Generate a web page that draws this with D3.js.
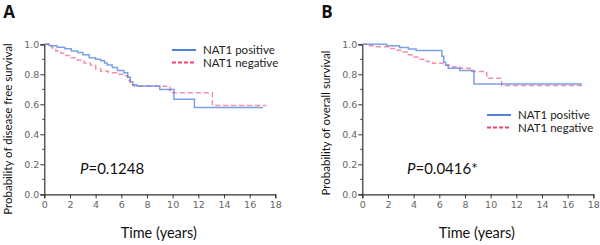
<!DOCTYPE html>
<html>
<head>
<meta charset="utf-8">
<script src="https://cdn.jsdelivr.net/npm/d3@7"></script>
<style>
  body { margin: 0; background: #fff; }
  svg text { font-family: Lato, 'Open Sans', sans-serif; font-weight: 400; }
</style>
</head>
<body>
<div class="canvas"></div>
<script>
// Kaplan-Meier steps: [time (years), survival]
const dfsPositive = [[0,1],[0.4,0.99],[1.0,0.98],[1.6,0.97],[2.1,0.955],[2.6,0.945],[3.0,0.93],[3.5,0.91],[4.0,0.9],[4.4,0.89],[4.7,0.875],[4.9,0.862],[5.3,0.845],[5.7,0.825],[6.2,0.81],[6.5,0.78],[6.7,0.75],[6.9,0.73],[7.2,0.722],[9.0,0.698],[10.1,0.633],[11.7,0.578],[17.05,0.578]]
const dfsNegative = [[0,1],[0.3,0.99],[0.6,0.975],[0.9,0.955],[1.3,0.94],[1.7,0.925],[2.1,0.91],[2.6,0.895],[3.1,0.875],[3.6,0.86],[4.0,0.835],[4.4,0.82],[5.0,0.81],[5.6,0.8],[6.2,0.79],[6.5,0.76],[6.7,0.73],[7.0,0.72],[9.8,0.677],[13.1,0.592],[17.3,0.592]]
const osPositive = [[0,1],[1.9,0.99],[2.9,0.978],[3.6,0.968],[4.2,0.958],[6.2,0.92],[6.35,0.88],[6.5,0.86],[6.7,0.84],[7.6,0.825],[8.7,0.735],[17.1,0.735]]
const osNegative = [[0,1],[0.5,0.99],[1.1,0.984],[2.1,0.972],[2.6,0.96],[3.0,0.948],[3.5,0.93],[4.0,0.915],[4.5,0.9],[5.0,0.885],[5.5,0.873],[6.3,0.86],[6.8,0.85],[7.6,0.84],[8.4,0.818],[9.7,0.773],[10.86,0.725],[17.35,0.725]]

const xTicks = [0, 2, 4, 6, 8, 10, 12, 14, 16, 18]
const yTicks = [0, 0.2, 0.4, 0.6, 0.8, 1.0]
const yMinor = [0.1, 0.3, 0.5, 0.7, 0.9]
const seriesNames = ['NAT1 positive', 'NAT1 negative']

const svg = d3.select('.canvas')
  .append('svg')
  .attr('width', 600)
  .attr('height', 245)

const blue = '#4f82dc'
const red = '#f0436e'

const drawPanel = (opts) => {
  const x = d3.scaleLinear().domain([0, 18]).range([opts.left, opts.left + 231])
  const y = d3.scaleLinear().domain([0, 1]).range([194.3, 44.3])

  const g = svg.append('g')

  // panel letter
  g.append('text')
    .attr('x', opts.left - 41)
    .attr('y', 18)
    .attr('font-size', 17)
    .style('font-family', 'Open Sans, sans-serif')
    .style('font-weight', 700)
    .attr('fill', '#111')
    .text(opts.letter)

  // axes
  const xAxis = d3.axisBottom(x).tickValues(xTicks).tickSize(4).tickPadding(3)
  const yAxis = d3.axisLeft(y).tickValues(yTicks).tickSize(4).tickPadding(1)
    .tickFormat(d3.format('.1f'))

  const xg = g.append('g').attr('transform', `translate(0, ${y(0)})`).call(xAxis)
  const yg = g.append('g').attr('transform', `translate(${x(0)}, 0)`).call(yAxis)
  yg.selectAll('.minor').data(yMinor).enter()
    .append('line')
    .attr('class', 'minor')
    .attr('x1', -2).attr('x2', 0)
    .attr('y1', d => y(d)).attr('y2', d => y(d))
    .attr('stroke', '#333')

  ;[xg, yg].forEach(a => {
    a.select('.domain').attr('stroke', '#333').attr('stroke-width', 1.2)
    a.selectAll('.tick line').attr('stroke', '#333')
    a.selectAll('text')
      .attr('fill', '#666')
      .attr('font-size', 9.5)
      .style('font-family', 'DejaVu Sans, sans-serif')
  })

  // curves
  const line = d3.line()
    .x(d => x(d[0]))
    .y(d => y(d[1]))
    .curve(d3.curveStepAfter)

  g.append('path')
    .attr('d', line(opts.negative))
    .attr('fill', 'none')
    .attr('stroke', red)
    .attr('stroke-opacity', 0.6)
    .attr('stroke-width', 1.5)
    .attr('stroke-dasharray', '5,3')

  g.append('path')
    .attr('d', line(opts.positive))
    .attr('fill', 'none')
    .attr('stroke', blue)
    .attr('stroke-opacity', 0.75)
    .attr('stroke-width', 1.5)

  // legend
  const lg = g.append('g').attr('transform', `translate(${opts.legendX}, ${opts.legendY})`)
  seriesNames.forEach((name, i) => {
    lg.append('line')
      .attr('x1', 0).attr('x2', 24)
      .attr('y1', i * 12.5).attr('y2', i * 12.5)
      .attr('stroke', i === 0 ? blue : red)
      .attr('stroke-width', 2)
      .attr('stroke-dasharray', i === 0 ? null : '4,2')
    lg.append('text')
      .attr('x', 31)
      .attr('y', i * 12.5 + 4)
      .attr('font-size', 11.5)
      .attr('fill', '#222')
      .text(name)
  })

  // p value
  const p = g.append('text')
    .attr('x', opts.pX)
    .attr('y', 174)
    .attr('font-size', 15)
    .attr('fill', '#111')
  p.append('tspan').attr('font-style', 'italic').text('P')
  p.append('tspan').text(opts.pText)

  // axis titles
  g.append('text')
    .attr('x', x(9) - 1)
    .attr('y', 238)
    .attr('text-anchor', 'middle')
    .attr('font-size', 14.5)
    .attr('fill', '#111')
    .text('Time (years)')

  g.append('text')
    .attr('transform', `translate(${opts.left - 32}, ${opts.yLabelMid}) rotate(-90)`)
    .attr('text-anchor', 'middle')
    .attr('font-size', 11.5)
    .attr('fill', '#111')
    .text(opts.yLabel)
}

drawPanel({
  left: 44.3, letter: 'A',
  positive: dfsPositive, negative: dfsNegative,
  legendX: 172, legendY: 50,
  pX: 80, pText: '=0.1248',
  yLabel: 'Probability of disease free survival', yLabelMid: 129
})

drawPanel({
  left: 362.3, letter: 'B',
  positive: osPositive, negative: osNegative,
  legendX: 487, legendY: 115,
  pX: 407, pText: '=0.0416*',
  yLabel: 'Probability of overall survival', yLabelMid: 123
})
</script>
</body>
</html>
